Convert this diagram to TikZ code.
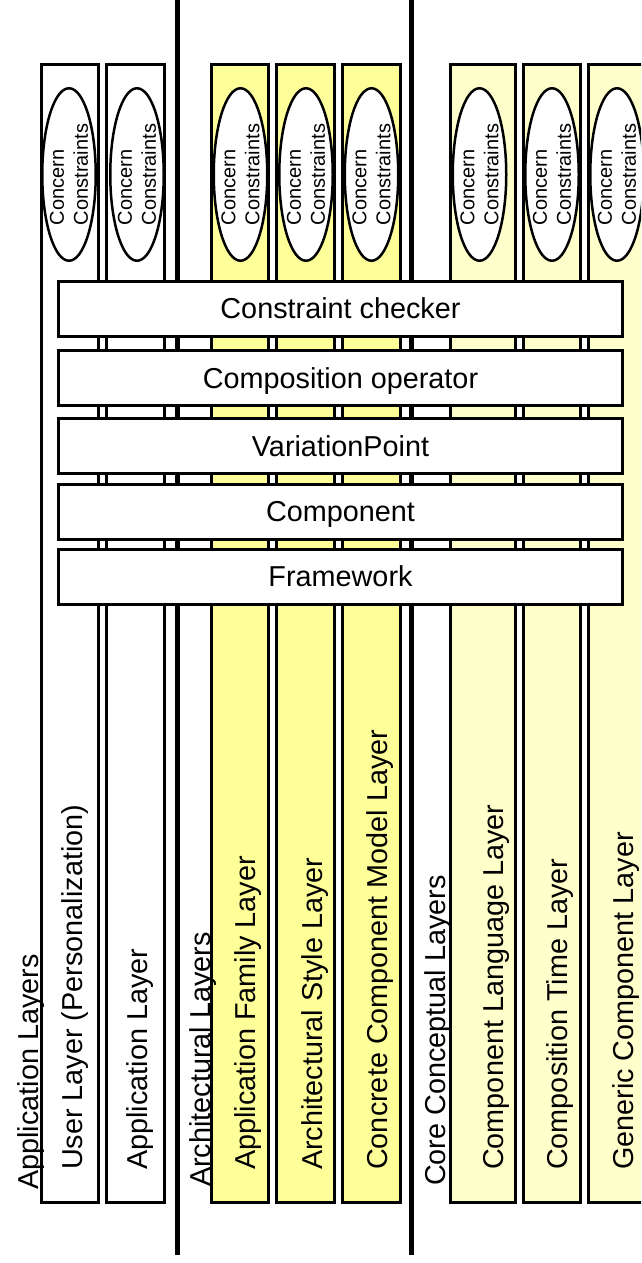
\documentclass[tikz,border=0pt]{standalone}
\usepackage{fontspec}
\setmainfont{Liberation Sans}
\usetikzlibrary{shapes.geometric}
\definecolor{yelA}{RGB}{255,255,153}
\definecolor{yelB}{RGB}{255,255,204}
\begin{document}
\begin{tikzpicture}[x=1pt,y=-1pt,
  colbox/.style={draw=black, line width=3pt, minimum height=1138pt, inner sep=0pt, outer sep=0pt},
  sep/.style={line width=5pt, black},
  ell/.style={ellipse, draw=black, fill=white, line width=2.5pt, minimum width=53.5pt, minimum height=172.5pt, inner sep=0pt},
  elltext/.style={rotate=90, align=left, inner sep=0pt, font=\fontsize{20}{24}\selectfont},
  lbl/.style={rotate=90, anchor=base west, inner sep=0pt, font=\fontsize{28.8}{34}\selectfont},
  hbox/.style={draw=black, fill=white, line width=3pt, minimum width=564pt, minimum height=55pt, inner sep=0pt, text height=20.6pt, text depth=0pt, font=\fontsize{28.8}{34}\selectfont}
]
\useasboundingbox (0,0) rectangle (641,1263);
\clip (0,0) rectangle (641,1263);
% columns
\node[colbox, fill=white, minimum width=57pt] (c1) at (70,633.5) {};
\node[colbox, fill=white, minimum width=58pt] (c2) at (135.5,633.5) {};
\node[colbox, fill=yelA, minimum width=57pt] (c3) at (240,633.5) {};
\node[colbox, fill=yelA, minimum width=58pt] (c4) at (305.5,633.5) {};
\node[colbox, fill=yelA, minimum width=58pt] (c5) at (371.5,633.5) {};
\node[colbox, fill=yelB, minimum width=65pt] (c6) at (483,633.5) {};
\node[colbox, fill=yelB, minimum width=57pt] (c7) at (552,633.5) {};
\node[colbox, fill=yelB, minimum width=62pt] (c8) at (619.5,633.5) {};
% thick separators
\coordinate (s1t) at (177.5,0);
\coordinate (s1b) at (177.5,1255);
\coordinate (s2t) at (411,0);
\coordinate (s2b) at (411,1255);
\draw[sep] (s1t) -- (s1b);
\draw[sep] (s2t) -- (s2b);
% ellipses
\foreach \i/\x in {1/69,2/137,3/240.5,4/306,5/371.5,6/479.5,7/552,8/617}{
  \node[ell] (e\i) at (\x,174.5) {};
  \node[elltext] (et\i) at (e\i.center) {Concern\\Constraints};
}
% column labels
\node[lbl] (l1) at (82,1170) {User Layer (Personalization)};
\node[lbl] (l2) at (147,1170) {Application Layer};
\node[lbl] (l3) at (255,1170) {Application Family Layer};
\node[lbl] (l4) at (322,1170) {Architectural Style Layer};
\node[lbl] (l5) at (387,1170) {Concrete Component Model Layer};
\node[lbl] (l6) at (503,1170) {Component Language Layer};
\node[lbl] (l7) at (567,1170) {Composition Time Layer};
\node[lbl] (l8) at (633,1170) {Generic Component Layer};
% group labels
\node[lbl] (g1) at (38,1190) {Application Layers};
\node[lbl] (g2) at (210,1187) {Architectural Layers};
\node[lbl] (g3) at (445,1186) {Core Conceptual Layers};
% horizontal boxes
\node[hbox] (b1) at (340.5,308.5) {Constraint checker};
\node[hbox] (b2) at (340.5,378) {Composition operator};
\node[hbox] (b3) at (340.5,446) {VariationPoint};
\node[hbox] (b4) at (340.5,511.5) {Component};
\node[hbox] (b5) at (340.5,576.5) {Framework};
\end{tikzpicture}
\end{document}
